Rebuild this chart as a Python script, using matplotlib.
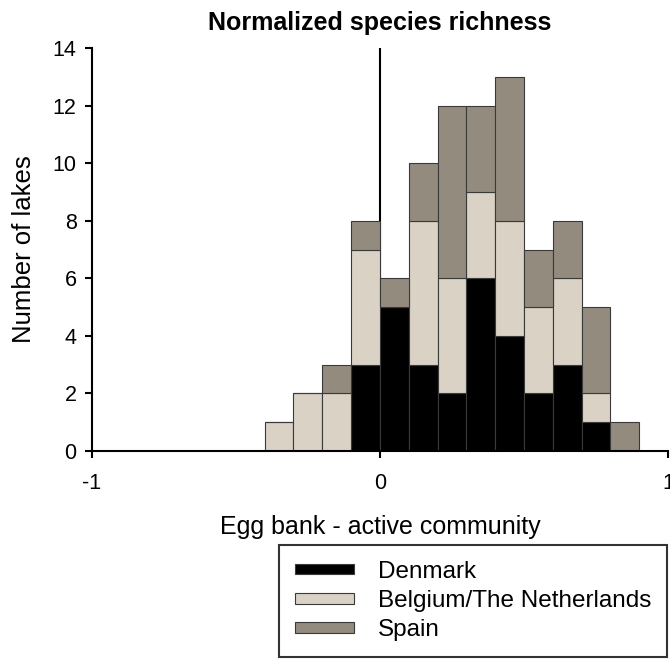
import matplotlib
matplotlib.use("Agg")
import matplotlib.pyplot as plt
import numpy as np

plt.rcParams['font.family'] = ['Liberation Sans', 'DejaVu Sans']

# bin centres (difference egg bank - active community), counts per region
bin_centers = [-0.35, -0.25, -0.15, -0.05, 0.05, 0.15, 0.25, 0.35, 0.45, 0.55, 0.65, 0.75, 0.85]
denmark = [0, 0, 0, 3, 5, 3, 2, 6, 4, 2, 3, 1, 0]
belgium = [1, 2, 2, 4, 0, 5, 4, 3, 4, 3, 3, 1, 0]
spain = [0, 0, 1, 1, 1, 2, 6, 3, 5, 2, 2, 3, 1]

labels = ["Denmark", "Belgium/The Netherlands", "Spain"]
colors = ["#000000", "#d9d2c5", "#948b7f"]

fig = plt.figure(figsize=(6.70, 6.59), dpi=100)
ax = fig.add_axes([0.137, 0.3156, 0.86, 0.6115])

x = np.array(bin_centers)
d = np.array(denmark)
b = np.array(belgium)
s = np.array(spain)

ax.axvline(0, color="black", lw=1.5, zorder=0.5)
ax.bar(x, d, width=0.1, color=colors[0], edgecolor="#3a3a3a", lw=0.8, label=labels[0])
ax.bar(x, b, width=0.1, bottom=d, color=colors[1], edgecolor="#3a3a3a", lw=0.8, label=labels[1])
ax.bar(x, s, width=0.1, bottom=d + b, color=colors[2], edgecolor="#3a3a3a", lw=0.8, label=labels[2])

ax.set_xlim(-1, 1)
ax.set_ylim(0, 14)
ax.set_xticks([-1, 0, 1])
ax.set_xticklabels(["-1", "0", "1"])
ax.set_yticks(range(0, 15, 2))
for sp in ["top", "right"]:
    ax.spines[sp].set_visible(False)
for sp in ["left", "bottom"]:
    ax.spines[sp].set_linewidth(1.5)
ax.tick_params(axis="both", labelsize=15.5, width=1.5, length=5, direction="out")
ax.tick_params(axis="y", pad=6)
ax.tick_params(axis="x", pad=11)

ax.set_title("Normalized species richness", fontsize=18, fontweight="bold", pad=13)
ax.set_xlabel("Egg bank - active community", fontsize=18, labelpad=15)
ax.set_ylabel("Number of lakes", fontsize=18.5, labelpad=12)

leg = fig.legend(loc="upper right", bbox_to_anchor=(0.9955, 0.173), bbox_transform=fig.transFigure,
                 fontsize=17.5, frameon=True, fancybox=False, edgecolor="black",
                 handlelength=2.4, handleheight=0.3, handletextpad=1.0,
                 labelspacing=0.3, borderpad=0.65, borderaxespad=0)
leg.get_frame().set_linewidth(1.5)

fig.savefig("out.png", dpi=100)
